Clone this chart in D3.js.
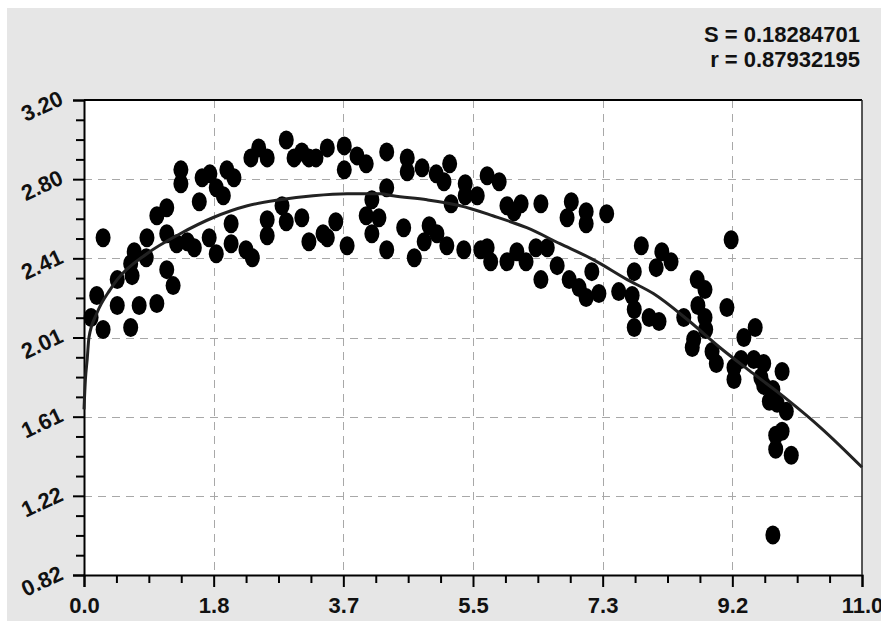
<!DOCTYPE html>
<html>
<head>
<meta charset="utf-8">
<script src="https://cdn.jsdelivr.net/npm/d3@7/dist/d3.min.js"></script>
<style>
  html, body { margin: 0; padding: 0; background: #ffffff; }
  svg { display: block; }
</style>
</head>
<body>
<svg id="chart" width="881" height="621"></svg>
<script>
// Observed points
const obsX = [0.10,0.18,0.27,0.27,0.47,0.47,0.66,0.78,1.03,1.26,1.17,0.68,0.66,0.71,0.88,0.89,1.03,1.17,1.17,1.31,
  1.46,1.56,1.77,1.87,2.08,2.08,2.29,2.38,1.63,1.37,1.37,1.67,1.78,1.87,1.97,2.02,2.12,2.36,2.47,2.59,
  2.86,2.59,2.59,2.80,2.86,2.97,3.08,3.18,3.28,3.44,3.68,3.68,3.86,3.99,4.28,4.57,4.57,4.78,4.98,5.09,
  5.17,5.39,5.39,5.56,5.70,4.28,4.07,3.08,3.18,3.38,3.44,3.56,3.72,3.99,4.17,4.07,4.28,4.52,4.67,4.81,
  4.88,4.99,5.13,5.19,5.37,5.61,5.87,5.98,6.08,6.18,6.46,6.89,6.83,7.10,7.10,7.39,5.70,5.75,5.98,6.12,
  6.25,6.39,6.55,6.69,6.46,6.86,7.00,7.10,7.28,7.18,7.56,7.75,7.78,7.78,7.78,7.88,8.17,8.30,8.09,7.99,
  8.13,8.48,9.15,8.67,8.78,8.68,9.09,8.78,8.79,8.62,8.60,8.88,8.94,9.33,9.49,9.29,9.19,9.19,9.47,9.61,
  9.57,9.61,9.74,9.69,9.87,9.80,9.93,9.87,9.78,9.78,10.00,9.74];
const obsY = [2.11,2.22,2.05,2.51,2.30,2.17,2.06,2.17,2.18,2.27,2.35,2.32,2.38,2.44,2.41,2.51,2.62,2.66,2.53,2.48,
  2.49,2.46,2.51,2.43,2.48,2.58,2.45,2.41,2.69,2.85,2.78,2.81,2.83,2.76,2.72,2.85,2.81,2.91,2.96,2.91,
  3.00,2.60,2.52,2.67,2.59,2.91,2.94,2.91,2.91,2.96,2.97,2.85,2.92,2.88,2.94,2.91,2.84,2.86,2.83,2.79,
  2.88,2.78,2.72,2.72,2.82,2.76,2.70,2.61,2.49,2.53,2.51,2.59,2.47,2.62,2.61,2.53,2.45,2.56,2.41,2.49,
  2.57,2.53,2.47,2.68,2.45,2.45,2.79,2.67,2.64,2.68,2.68,2.69,2.61,2.64,2.58,2.63,2.46,2.39,2.39,2.44,
  2.39,2.46,2.46,2.37,2.30,2.30,2.26,2.21,2.23,2.34,2.24,2.22,2.15,2.06,2.34,2.47,2.44,2.39,2.36,2.11,
  2.09,2.11,2.50,2.30,2.25,2.17,2.16,2.11,2.05,2.00,1.96,1.94,1.88,2.01,2.06,1.90,1.86,1.80,1.90,1.88,
  1.81,1.77,1.75,1.69,1.84,1.68,1.64,1.54,1.52,1.45,1.42,1.02];

// Fitted curve samples
const fitX = [0,0.02,0.045,0.07,0.18,0.37,0.47,0.89,1.36,1.82,2.31,2.77,3.24,3.72,4.19,4.37,4.85,5.32,5.78,6.26,
  6.73,7.20,7.68,8.05,8.53,8.99,9.46,9.94,10.41,11.0];
const fitY = [1.65,1.80,1.90,2.01,2.13,2.25,2.30,2.43,2.53,2.61,2.67,2.70,2.72,2.73,2.73,2.72,2.70,2.67,2.62,2.56,
  2.48,2.40,2.30,2.23,2.10,1.96,1.83,1.70,1.56,1.36];

// Fit statistics
const statLines = ["S = 0.18284701", "r = 0.87932195"];

// Axis ticks
const xTickValues = [0, 1.8333, 3.6667, 5.5, 7.3333, 9.1667, 11];
const xTickLabels = ["0.0", "1.8", "3.7", "5.5", "7.3", "9.2", "11.0"];
const yTickValues = [0.82, 1.2167, 1.6133, 2.01, 2.4067, 2.8033, 3.20];
const yTickLabels = ["0.82", "1.22", "1.61", "2.01", "2.41", "2.80", "3.20"];

const FONT = "'Liberation Sans', Arial, Helvetica, sans-serif";

const svg = d3.select("#chart");
const W = 881, H = 621;
const plot = { left: 84, right: 862, top: 100, bottom: 575 };

const x = d3.scaleLinear().domain([0, 11]).range([plot.left, plot.right]);
const y = d3.scaleLinear().domain([0.82, 3.20]).range([plot.bottom, plot.top]);

// Panel background
svg.append("rect").attr("x", 7).attr("y", 8).attr("width", W - 7).attr("height", H - 8).attr("fill", "#e6e6e6");
svg.append("rect").attr("x", plot.left).attr("y", plot.top)
  .attr("width", plot.right - plot.left).attr("height", plot.bottom - plot.top).attr("fill", "#ffffff");

// Dashed grid
const grid = svg.append("g").attr("stroke", "#a8a8a8").attr("stroke-width", 1).attr("stroke-dasharray", "8,6");
grid.selectAll("line.v").data(xTickValues.slice(1, -1)).join("line")
  .attr("x1", d => Math.round(x(d)) + 0.5).attr("x2", d => Math.round(x(d)) + 0.5)
  .attr("y1", plot.top).attr("y2", plot.bottom);
grid.selectAll("line.h").data(yTickValues.slice(1, -1)).join("line")
  .attr("x1", plot.left).attr("x2", plot.right)
  .attr("y1", d => Math.round(y(d)) + 0.5).attr("y2", d => Math.round(y(d)) + 0.5);

// Minor tick positions: four subdivisions between major ticks
function minorTicks(vals) {
  const out = [];
  for (let i = 0; i < vals.length - 1; i++) {
    const step = (vals[i + 1] - vals[i]) / 4;
    for (let k = 1; k < 4; k++) out.push(vals[i] + k * step);
  }
  return out;
}

// X axis
const xAxis = svg.append("g").attr("transform", `translate(0,${plot.bottom})`)
  .call(d3.axisBottom(x).tickValues(xTickValues).tickSize(12).tickPadding(11)
    .tickFormat((d, i) => xTickLabels[i]));
xAxis.select(".domain").attr("stroke", "#000").attr("stroke-width", 2);
xAxis.selectAll(".tick line").attr("stroke", "#000").attr("stroke-width", 2);
xAxis.selectAll(".tick text").attr("font-size", 22).attr("font-family", FONT)
  .attr("font-weight", "bold").attr("fill", "#111").attr("dy", "0.66em");
const xMinor = svg.append("g").attr("transform", `translate(0,${plot.bottom})`)
  .call(d3.axisBottom(x).tickValues(minorTicks(xTickValues)).tickSize(8).tickFormat(""));
xMinor.select(".domain").remove();
xMinor.selectAll(".tick line").attr("stroke", "#000").attr("stroke-width", 2);

// Y axis
const yAxis = svg.append("g").attr("transform", `translate(${plot.left},0)`)
  .call(d3.axisLeft(y).tickValues(yTickValues).tickSize(11).tickFormat(""));
yAxis.select(".domain").attr("stroke", "#000").attr("stroke-width", 2);
yAxis.selectAll(".tick line").attr("stroke", "#000").attr("stroke-width", 2);
const yMinor = svg.append("g").attr("transform", `translate(${plot.left},0)`)
  .call(d3.axisLeft(y).tickValues(minorTicks(yTickValues)).tickSize(8).tickFormat(""));
yMinor.select(".domain").remove();
yMinor.selectAll(".tick line").attr("stroke", "#000").attr("stroke-width", 2);

// Slanted y tick labels
svg.append("g").selectAll("text").data(yTickValues).join("text")
  .attr("transform", d => `translate(42,${y(d) + 6}) rotate(-25)`)
  .attr("text-anchor", "middle").attr("dy", "0.35em")
  .attr("font-family", FONT).attr("font-weight", "bold").attr("font-size", 22).attr("fill", "#111")
  .text((d, i) => yTickLabels[i]);

// Frame top and right
svg.append("line").attr("x1", plot.left).attr("x2", plot.right).attr("y1", plot.top).attr("y2", plot.top)
  .attr("stroke", "#000").attr("stroke-width", 2);
svg.append("line").attr("x1", plot.right).attr("x2", plot.right).attr("y1", plot.top).attr("y2", plot.bottom)
  .attr("stroke", "#222").attr("stroke-width", 1.5);

// Scatter points
svg.append("g").selectAll("ellipse").data(obsX.map((v, i) => [v, obsY[i]])).join("ellipse")
  .attr("cx", d => x(d[0])).attr("cy", d => y(d[1]))
  .attr("rx", 7.5).attr("ry", 9.5).attr("fill", "#000");

// Fitted curve
const line = d3.line().x(d => x(d[0])).y(d => y(d[1])).curve(d3.curveMonotoneX);
svg.append("path").datum(fitX.map((v, i) => [v, fitY[i]]))
  .attr("d", line).attr("fill", "none").attr("stroke", "#222").attr("stroke-width", 3);

// Statistics block
svg.append("g").selectAll("text").data(statLines).join("text")
  .attr("x", 860).attr("y", (d, i) => 42 + i * 25)
  .attr("text-anchor", "end")
  .attr("font-family", FONT).attr("font-weight", "bold").attr("font-size", 22).attr("fill", "#111")
  .text(d => d);
</script>
</body>
</html>
